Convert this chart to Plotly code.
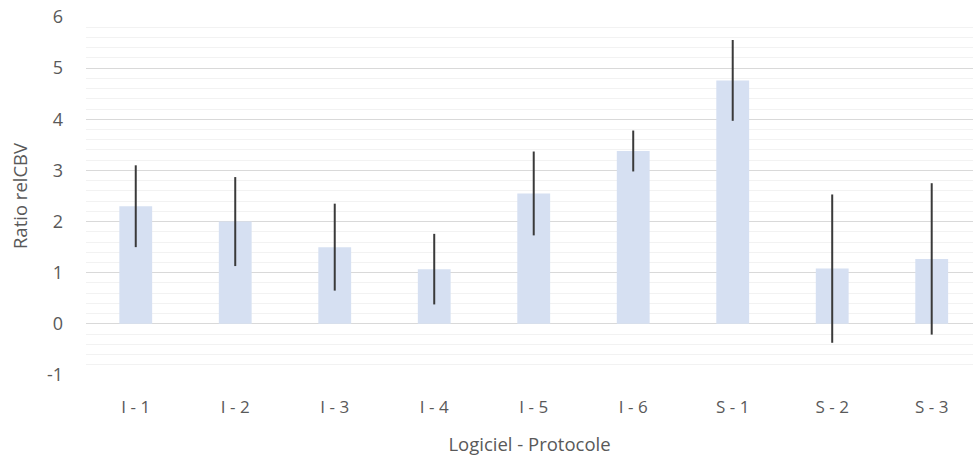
import plotly.graph_objects as go

# Software / protocol combinations and measured relCBV ratios
categories = ["I - 1", "I - 2", "I - 3", "I - 4", "I - 5", "I - 6", "S - 1", "S - 2", "S - 3"]
ratio = [2.30, 2.00, 1.50, 1.07, 2.55, 3.38, 4.76, 1.08, 1.27]
err = [0.80, 0.87, 0.85, 0.69, 0.82, 0.40, 0.79, 1.45, 1.48]
y_ticks = [-1, 0, 1, 2, 3, 4, 5, 6]
y_tick_text = ["-1", "0", "1", "2", "3", "4", "5", "6"]

text_color = "#595959"
font_family = "Open Sans, Noto Sans, sans-serif"

fig = go.Figure(
    go.Bar(
        x=list(range(len(categories))),
        y=ratio,
        width=0.33,
        marker=dict(color="#D6E0F2", line=dict(width=0)),
        error_y=dict(type="data", array=err, visible=True,
                     color="#3A3A3A", thickness=2, width=0),
    )
)

fig.update_layout(
    width=973,
    height=461,
    margin=dict(l=86, r=0, t=17, b=86),
    plot_bgcolor="white",
    paper_bgcolor="white",
    showlegend=False,
    font=dict(family=font_family, color=text_color, size=17),
)

fig.update_xaxes(
    tickmode="array",
    tickvals=list(range(len(categories))),
    ticktext=categories,
    range=[-0.5, 8.415],
    showgrid=False,
    showline=False,
    zeroline=False,
    ticks="",
    ticklabelstandoff=20,
    tickfont=dict(size=17, color=text_color),
    title=dict(text="Logiciel - Protocole", font=dict(size=18.5, color=text_color), standoff=21),
)

fig.update_yaxes(
    range=[-1, 6],
    tickmode="array",
    tickvals=y_ticks,
    ticktext=y_tick_text,
    showgrid=True,
    gridcolor="#D9D9D9",
    gridwidth=1,
    zeroline=True,
    zerolinecolor="#D9D9D9",
    zerolinewidth=1,
    showline=False,
    ticks="",
    ticklabelstandoff=22,
    tickfont=dict(size=18, color=text_color),
    minor=dict(tickmode="linear", tick0=0, dtick=0.2, showgrid=True,
               gridcolor="#F2F2F2", gridwidth=1),
    title=dict(text="Ratio relCBV", font=dict(size=18.5, color=text_color), standoff=14),
)

fig.write_html("out.html")
